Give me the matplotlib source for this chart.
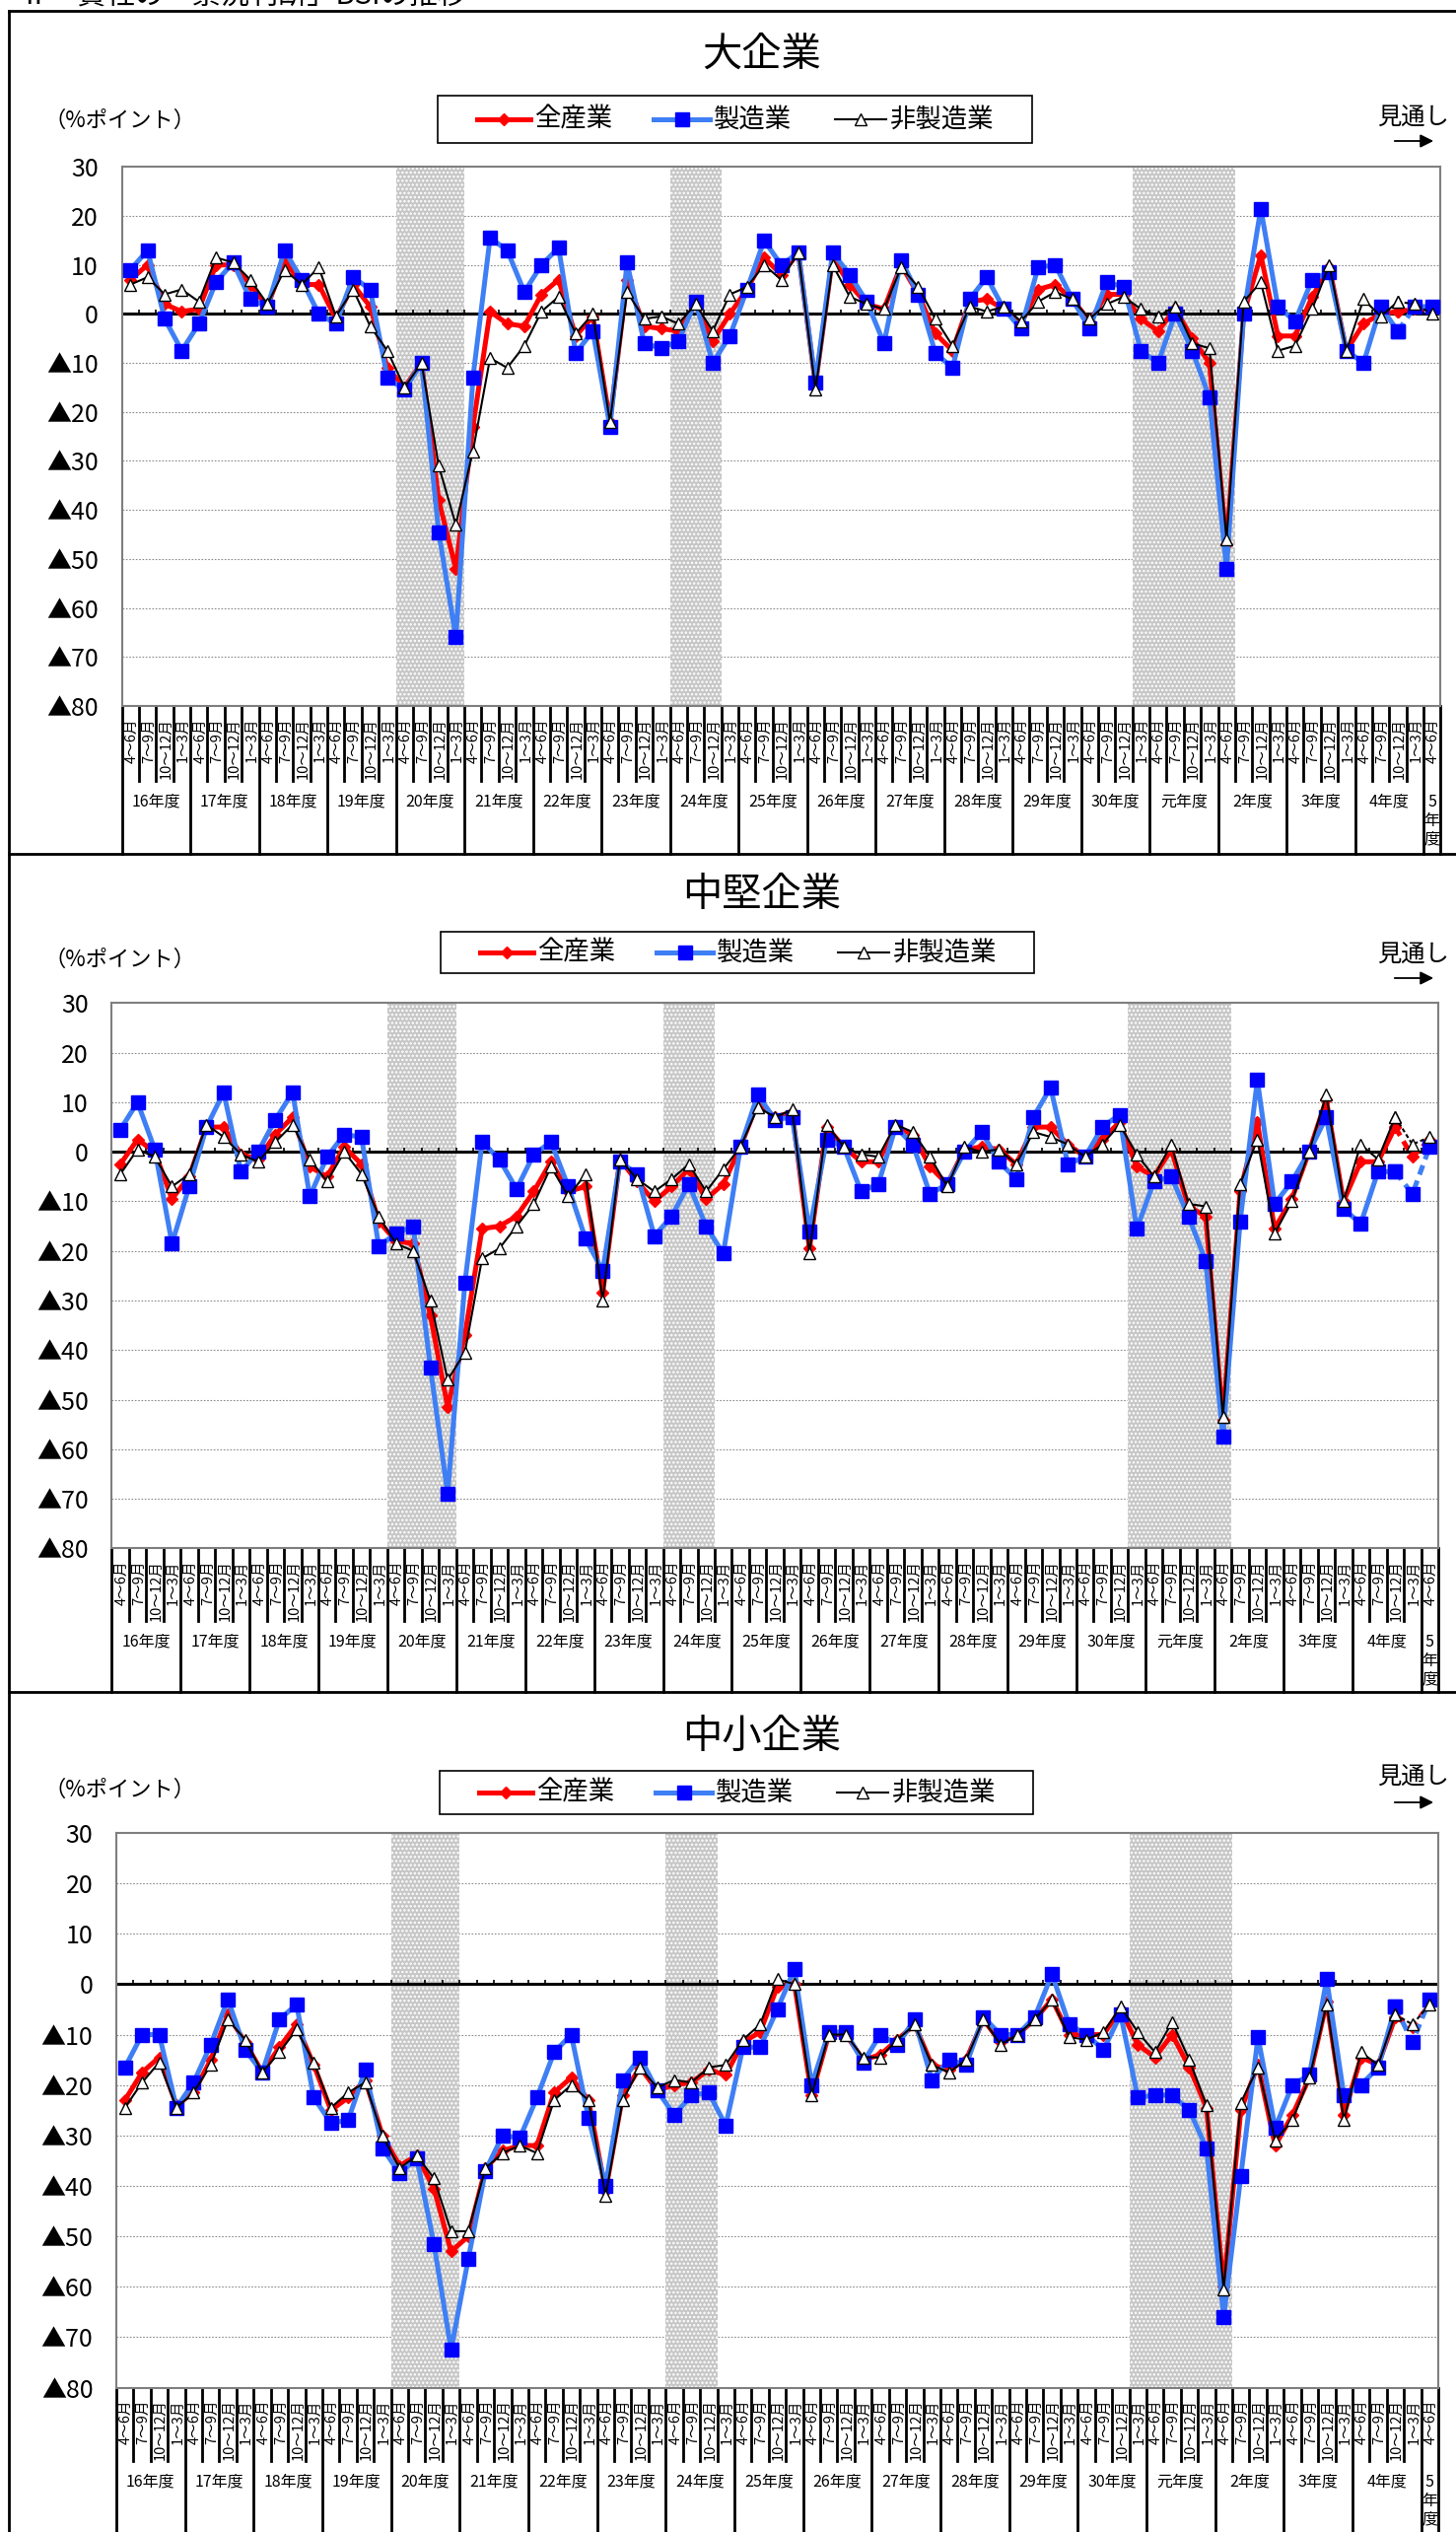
import numpy as np
import matplotlib
matplotlib.use("Agg")
import matplotlib.pyplot as plt
from matplotlib.patches import Rectangle
from matplotlib.transforms import blended_transform_factory

plt.rcParams['font.family'] = ['Noto Sans CJK JP', 'DejaVu Sans']
plt.rcParams['hatch.linewidth'] = 1.2

# ---- categories ----
fiscal_years = ['16年度', '17年度', '18年度', '19年度', '20年度', '21年度', '22年度',
                '23年度', '24年度', '25年度', '26年度', '27年度', '28年度', '29年度',
                '30年度', '元年度', '2年度', '3年度', '4年度', '5年度']
quarters_per_year = [4] * 19 + [1]
quarter_names = ['4～6月', '7～9月', '10～12月', '1～3月']
series_names = ['全産業', '製造業', '非製造業']

# shaded periods (first, last category index)
shade_spans = [(16, 19), (32, 34), (59, 64)]

# ---- 大企業 ----
large_all = [7, 10, 2, 0.5, 1, 10, 10, 6, 1.5, 11, 6, 6, -1, 6, 1.5, -11,
             -15, -10, -38, -52, -23, 0.5, -2, -2.5, 4, 7, -4.5, -0.5, -22, 7, -2.5, -3,
             -3.5, 2, -5.5, 0, 5, 11.5, 8, 12.5, -14.5, 11.5, 6, 2, 1, 10, 4, -4,
             -7.5, 2.5, 3, 1, -2, 5, 6, 3, -1.5, 4, 4, -1, -3.5, 1, -5, -10,
             -47, 0, 12, -4.5, -4.5, 3.5, 9.5, -7.5, -2, 0, 0.5, 1, 1]
large_mfg = [9, 13, -1, -7.5, -2, 6.5, 10.5, 3, 1.5, 13, 7, 0, -2, 7.5, 5, -13,
             -15.5, -10, -44.5, -66, -13, 15.5, 13, 4.5, 10, 13.5, -8, -3.5, -23, 10.5, -6, -7,
             -5.5, 2.5, -10, -4.5, 5, 15, 10, 12.5, -14, 12.5, 8, 2.5, -6, 11, 4, -8,
             -11, 3, 7.5, 1, -3, 9.5, 10, 3, -3, 6.5, 5.5, -7.5, -10, 0, -7.5, -17,
             -52, 0, 21.5, 1.5, -1.5, 7, 8.5, -7.5, -10, 1.5, -3.5, 1.5, 1.5]
large_non = [6, 7.5, 4, 5, 2.5, 11.5, 10.5, 7, 2, 9, 6, 9.5, -0.5, 5, -2.5, -7.5,
             -15, -10, -31, -43, -28, -9, -11, -6.5, 0.5, 3.5, -4, 0, -22, 4.5, -1, -0.5,
             -2, 2, -3.5, 4, 5.5, 10, 7, 12.5, -15.5, 10, 3.5, 2, 1, 9.5, 5.5, -1,
             -6.5, 1.5, 0.5, 1.5, -1.5, 2.5, 4.5, 3, -1, 2, 3.5, 1, -0.5, 1.5, -6, -7,
             -46, 2.5, 6.5, -7.5, -6.5, 1, 10, -7.5, 3, -0.5, 2.5, 2, 0]

# ---- 中堅企業 ----
mid_all = [-2.5, 2.5, 0, -9.5, -5, 5, 5, -0.5, -1.5, 3.5, 7, -3, -5, 1, -2.5, -14,
           -18, -18.5, -33, -51.5, -37, -15.5, -15, -13, -8, -2, -8, -7, -28.5, -1.5, -6, -10,
           -7, -3.5, -9.5, -6.5, 1, 10, 7, 8, -19.5, 5, 1, -2, -2, 5, 3.5, -3,
           -6.5, 0.5, 1, 0.5, -2.5, 5, 5, 1.5, -1, 2.5, 6, -3, -5, 0.5, -11, -13,
           -54, -8, 6, -15.5, -9.5, 0, 10.5, -10, -2, -2, 5, -1, 2.5]
mid_mfg = [4.5, 10, 0.5, -18.5, -7, 5, 12, -4, 0, 6.5, 12, -9, -1, 3.5, 3, -19,
           -16.5, -15, -43.5, -69, -26.5, 2, -1.5, -7.5, -0.5, 2, -7, -17.5, -24, -2, -4.5, -17,
           -13, -6.5, -15, -20.5, 1, 11.5, 6.5, 7, -16, 2.5, 1, -8, -6.5, 5, 1.5, -8.5,
           -6.5, 0, 4, -2, -5.5, 7, 13, -2.5, -1, 5, 7.5, -15.5, -6, -5, -13, -22,
           -57.5, -14, 14.5, -10.5, -6, 0, 7, -11.5, -14.5, -4, -4, -8.5, 1]
mid_non = [-4.5, 0.5, -1, -7, -4.5, 5.5, 3, -0.5, -2, 2, 5.5, -1.5, -6, 0, -4.5, -13,
           -18.5, -20, -30, -46, -40.5, -21.5, -19.5, -15, -10.5, -3, -9, -4.5, -30, -1.5, -5.5, -8,
           -5.5, -2.5, -8, -3.5, 1, 9, 7, 8.5, -20.5, 5.5, 1, -0.5, -1, 5.5, 4, -1,
           -7, 1, 0, 0.5, -2.5, 4, 3, 1.5, -1, 1.5, 5.5, -0.5, -5, 1.5, -10.5, -11,
           -53.5, -6.5, 2.5, -16.5, -10, 0, 11.5, -10, 1.5, -1.5, 7, 1.5, 3]

# ---- 中小企業 ----
small_all = [-23, -17.5, -14.5, -24, -21.5, -15, -6, -11.5, -17.5, -12.5, -8, -16, -25, -22.5, -19, -30,
             -36, -34, -40.5, -53, -50, -36.5, -33, -32, -32, -21.5, -18.5, -23, -41, -22, -16.5, -21,
             -20, -19.5, -17, -18, -11.5, -9.5, -0.5, 0, -22, -10, -10, -15, -14, -11, -8, -16,
             -17, -15, -7, -11.5, -10, -7, -3, -10, -10, -10, -5, -12, -14.5, -10, -16.5, -24.5,
             -60, -25, -16, -32, -26, -18.5, -3.5, -26, -14.5, -16, -6.5, -8.5, -4]
small_mfg = [-16.5, -10, -10, -24.5, -19.5, -12, -3, -13, -17.5, -7, -4, -22.5, -27.5, -27, -17, -32.5,
             -37.5, -34.5, -51.5, -72.5, -54.5, -37, -30, -30.5, -22.5, -13.5, -10, -26.5, -40, -19, -14.5, -21,
             -26, -22, -21.5, -28, -12.5, -12.5, -5, 3, -20, -9.5, -9.5, -15.5, -10, -12, -7, -19,
             -15, -16, -6.5, -10, -10, -6.5, 2, -8, -10, -13, -6, -22.5, -22, -22, -25, -32.5,
             -66, -38, -10.5, -28.5, -20, -18, 1, -22, -20, -16.5, -4.5, -11.5, -3]
small_non = [-24.5, -19.5, -15.5, -24.5, -21.5, -16, -7, -11, -17.5, -13.5, -9, -15.5, -24.5, -21.5, -19.5, -30,
             -36.5, -34, -38.5, -49, -49, -36.5, -33.5, -32, -33.5, -23, -20, -23, -42, -23, -16.5, -20.5,
             -19, -19.5, -16.5, -16, -11, -8, 1, 0, -22, -10, -10, -14.5, -14.5, -11, -8, -16,
             -17.5, -15, -7, -12, -10, -7, -3, -10.5, -11, -9.5, -4.5, -9.5, -13.5, -7.5, -15, -24,
             -60.5, -23.5, -16.5, -31, -27, -18.5, -4, -27, -13.5, -16, -6, -8, -4]

W, H = 1477, 2568
fig = plt.figure(figsize=(W / 100, H / 100), dpi=100)
ov = fig.add_axes([0, 0, 1, 1])
ov.set_xlim(0, W)
ov.set_ylim(H, 0)
ov.axis('off')

# page title (cut off at the top edge, as in the source page) and frame
ov.text(20, 4, 'Ⅱ　貴社の「景況判断」BSIの推移', fontsize=21, ha='left', va='baseline')
ov.plot([9, 9], [11, H], color='black', lw=2)
for yy in (11, 866, 1716):
    ov.plot([9, W], [yy, yy], color='black', lw=2)

styles = [
    dict(color='#FF0000', lw=3.6, marker='D', ms=6, mfc='#FF0000', mec='#FF0000', zorder=3),
    dict(color='#3F7FF5', lw=3.6, marker='s', ms=9.5, mfc='#0000FF', mec='#0000FF', zorder=4),
    dict(color='black', lw=1.5, marker='^', ms=8.5, mfc='white', mec='black', mew=1, zorder=5),
]


def fmt(v):
    return '▲%d' % -v if v < 0 else '%d' % v


def draw_panel(p, title, series):
    ax = fig.add_axes([p['left'] / W, 1 - p['bottom'] / H,
                       (p['right'] - p['left']) / W, (p['bottom'] - p['top']) / H])
    n = len(series[0])
    x = np.arange(n)
    ax.set_xlim(-0.5, n - 0.5)
    ax.set_ylim(-80, 30)

    for a, b in shade_spans:
        ax.axvspan(a - 0.5, b + 0.5, facecolor='#c6c6c6', edgecolor='white',
                   hatch='....', lw=0, zorder=1)
    for v in range(-70, 30, 10):
        if v != 0:
            ax.axhline(v, color='#8c8c8c', lw=0.8, ls=(0, (1.5, 1.5)), zorder=0.5)
    ax.axhline(0, color='black', lw=2.2, zorder=2)
    ax.vlines(np.arange(n + 1) - 0.5, 0, 0.9, color='black', lw=1.2, zorder=2)

    # actual values solid, forecast part dashed
    for vals, st in zip(series, styles):
        vals = np.array(vals, dtype=float)
        ax.plot(x[:75], vals[:75], **st)
        ax.plot(x[74:], vals[74:], ls=(0, (2, 1.3)), **st)

    ax.set_xticks([])
    ax.set_yticks(range(-80, 31, 10))
    ax.set_yticklabels([fmt(v) for v in range(-80, 31, 10)], fontsize=18)
    ax.tick_params(axis='y', length=0, pad=17)
    for s in ax.spines.values():
        s.set_color('#7f7f7f')
        s.set_linewidth(1.5)

    # category table under the plot
    tr = blended_transform_factory(ax.transData, ov.transData)
    year_edges = np.concatenate([[0], np.cumsum(quarters_per_year)])
    for k in range(n + 1):
        y_end = p['ybot'] if k in year_edges else p['qbot']
        ax.plot([k - 0.5, k - 0.5], [p['bottom'], y_end], transform=tr,
                color='black', lw=2, clip_on=False)
    for i in range(n):
        ax.text(i + 0.08, p['bottom'] + 12, quarter_names[i % 4], transform=tr,
                rotation=90, ha='center', va='top', fontsize=10.5)
    for j, fy in enumerate(fiscal_years):
        c = (year_edges[j] + year_edges[j + 1] - 1) / 2
        if quarters_per_year[j] == 1:
            ax.text(c, p['qbot'] + 40, '\n'.join(['5', '年', '度']), transform=tr,
                    ha='center', va='center', fontsize=11.5, linespacing=1.15)
        else:
            ax.text(c, p['qbot'] + 21, fy, transform=tr, ha='center', va='center',
                    fontsize=11.5)

    # title, unit, legend, forecast arrow
    ov.text(773, p['title_y'], title, fontsize=29, ha='center', va='center')
    ov.text(44, p['unit_y'], '（%ポイント）', fontsize=16, ha='left', va='center')
    lx0, ly0, lx1, ly1 = p['legend']
    ov.add_patch(Rectangle((lx0, ly0), lx1 - lx0, ly1 - ly0, fill=False,
                           ec='black', lw=1.2))
    ly = (ly0 + ly1) / 2
    dx = lx0 - 444
    for (a, b), name, st in zip([(484, 538), (663, 720), (847, 899)], series_names, styles):
        ov.plot([a + dx, b + dx], [ly, ly], color=st['color'], lw=st['lw'])
        ov.plot([(a + b) / 2 + dx], [ly], ls='none', marker=st['marker'], ms=st['ms'],
                mfc=st['mfc'], mec=st['mec'])
        ov.text(b + dx + 4, ly, name, fontsize=19, ha='left', va='center')
    ov.text(1470, p['mitoshi_y'], '見通し', fontsize=17.5, ha='right', va='center')
    ov.annotate('', xy=(1457, p['arrow_y']), xytext=(1412, p['arrow_y']),
                arrowprops=dict(arrowstyle='-|>', color='black', lw=1.3,
                                mutation_scale=20))
    return ax


panels = [
    dict(left=123.6, right=1461.4, top=169.3, bottom=716, qbot=792, ybot=866,
         title_y=55, legend=(444, 97, 1047, 145), unit_y=122, mitoshi_y=120, arrow_y=143),
    dict(left=113.3, right=1459, top=1017.4, bottom=1570.4, qbot=1644, ybot=1716,
         title_y=907, legend=(447, 945, 1049, 987), unit_y=973, mitoshi_y=969, arrow_y=992),
    dict(left=118, right=1459, top=1859, bottom=2421.5, qbot=2496, ybot=2568,
         title_y=1761, legend=(446, 1796, 1048, 1840), unit_y=1815, mitoshi_y=1803, arrow_y=1828),
]

draw_panel(panels[0], '大企業', [large_all, large_mfg, large_non])
draw_panel(panels[1], '中堅企業', [mid_all, mid_mfg, mid_non])
draw_panel(panels[2], '中小企業', [small_all, small_mfg, small_non])

fig.savefig('out.png', dpi=100)
